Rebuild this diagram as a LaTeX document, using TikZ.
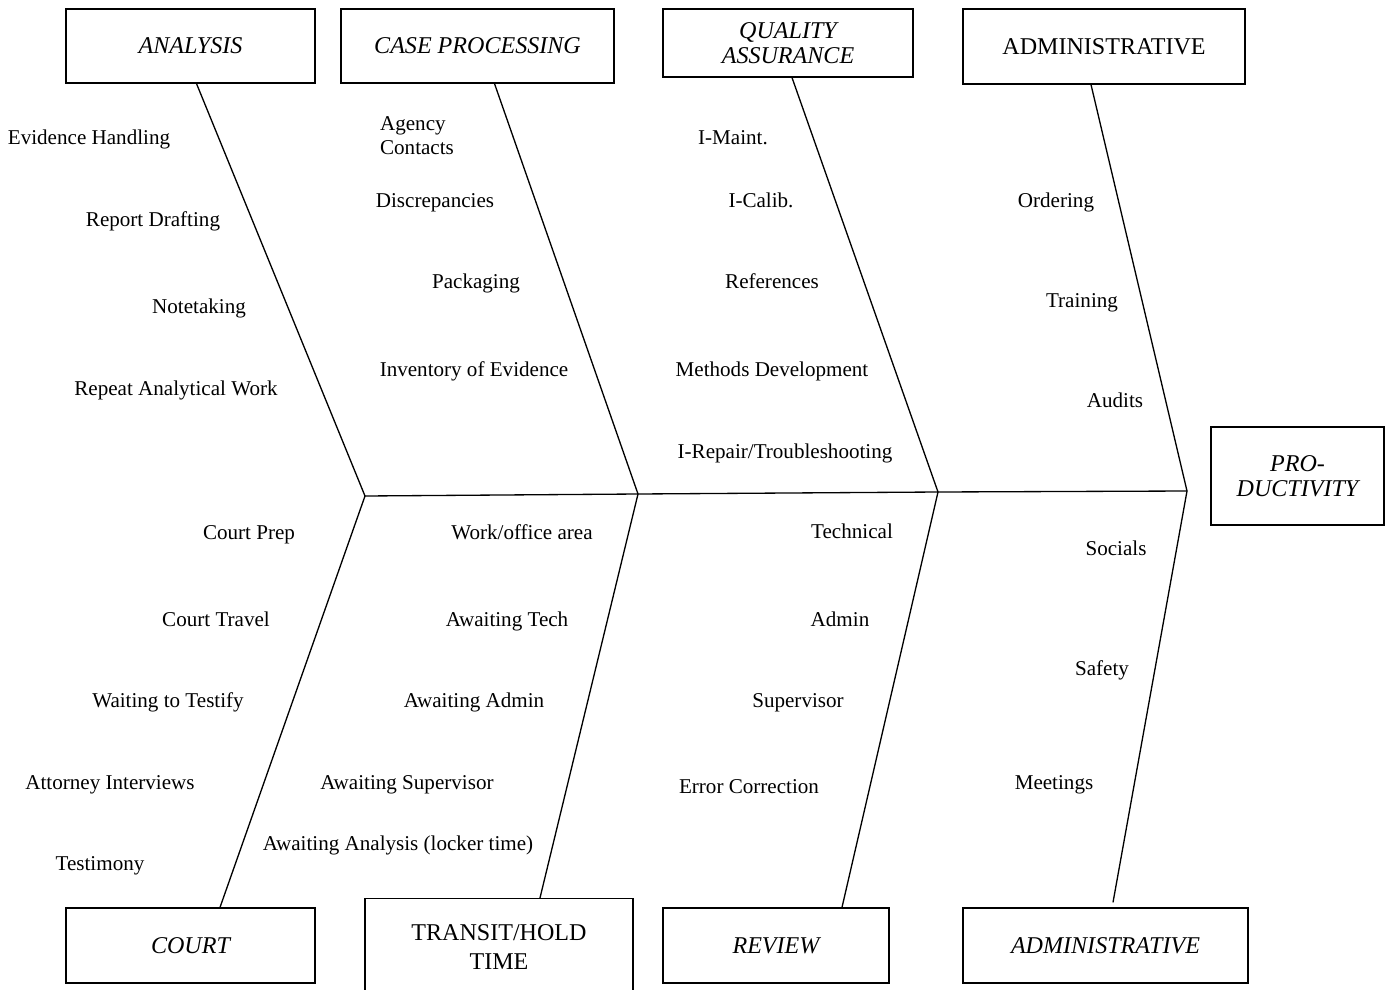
\documentclass[tikz,border=0pt]{standalone}
\usepackage{fontspec}
\setmainfont{Liberation Serif}
\usepackage{tikz}

\tikzset{
  head/.style={draw, line width=0.7pt, align=center, inner sep=2pt, font=\fontsize{13.7}{14}\selectfont},
  cause/.style={inner sep=1pt, text height=0.68em, text depth=0.22em, yshift=-0.05cm, font=\fontsize{12}{14}\selectfont},
  bone/.style={line width=0.75pt}
}

\begin{document}
\begin{tikzpicture}[x=0.02cm, y=-0.02cm]
	\useasboundingbox (0,0) rectangle (1386,990);
	%\draw [help lines, step=100] (0,0) grid (1386,990);
	% heads
	\node [head, minimum width=4.98cm, minimum height=1.48cm] (ana) at (190.5,46) {\itshape ANALYSIS};
	\node [head, minimum width=5.46cm, minimum height=1.48cm] (cas) at (477.5,46) {\itshape CASE PROCESSING};
	\node [head, minimum width=5.0cm, minimum height=1.36cm] (qua) at (788,43) {\itshape QUALITY\\ \itshape ASSURANCE};
	\node [head, minimum width=5.64cm, minimum height=1.5cm] (adt) at (1104,46.5) {ADMINISTRATIVE};
	\node [head, minimum width=4.98cm, minimum height=1.5cm] (cou) at (190.5,945.5) {\itshape COURT};
	\node [head, minimum width=5.36cm, minimum height=1.94cm, font=\fontsize{13.7}{16}\selectfont] (tra) at (499,947) {TRANSIT/HOLD\\ TIME};
	\node [head, minimum width=4.52cm, minimum height=1.5cm] (rev) at (776,945.5) {\itshape REVIEW};
	\node [head, minimum width=5.7cm, minimum height=1.5cm] (adb) at (1105.5,945.5) {\itshape ADMINISTRATIVE};
	\node [head, minimum width=3.46cm, minimum height=1.96cm] (pro) at (1297.5,476) {\itshape PRO-\\ \itshape DUCTIVITY};
	% spine
	\coordinate (j1) at (365,496);
	\coordinate (j2) at (638,494);
	\coordinate (j3) at (938,492);
	\coordinate (j4) at (1187,491);
	\draw [bone] (j1) -- (j2) -- (j3) -- (j4);
	% bones
	\draw [bone] ([xshift=0.12cm]ana.south) -- (j1);
	\draw [bone] ([xshift=0.34cm]cas.south) -- (j2);
	\draw [bone] ([xshift=0.08cm]qua.south) -- (j3);
	\draw [bone] ([xshift=-0.26cm]adt.south) -- (j4);
	\draw [bone] ([xshift=0.59cm]cou.north) -- (j1);
	\draw [bone] ([xshift=0.82cm]tra.north) -- (j2);
	\draw [bone] ([xshift=1.32cm]rev.north) -- (j3);
	\draw [bone] ([xshift=0.15cm, yshift=0.1cm]adb.north) -- (j4);
	% analysis
	\node [cause] (a1) at (89,138) {Evidence Handling};
	\node [cause] (a2) at (153,220) {Report Drafting};
	\node [cause] (a3) at (199,307) {Notetaking};
	\node [cause] (a4) at (176,389) {Repeat Analytical Work};
	% case processing
	\node [cause, align=left, text height=, text depth=] (c1) at (417,133) {Agency\\Contacts};
	\node [cause] (c2) at (435,201) {Discrepancies};
	\node [cause] (c3) at (476,282) {Packaging};
	\node [cause] (c4) at (474,370) {Inventory of Evidence};
	% quality assurance
	\node [cause] (q1) at (733,138) {I-Maint.};
	\node [cause] (q2) at (761,201) {I-Calib.};
	\node [cause] (q3) at (772,282) {References};
	\node [cause] (q4) at (772,370) {Methods Development};
	\node [cause] (q5) at (785,452) {I-Repair/Troubleshooting};
	% administrative (top)
	\node [cause] (t1) at (1056,201) {Ordering};
	\node [cause] (t2) at (1082,301) {Training};
	\node [cause] (t3) at (1115,401) {Audits};
	% court
	\node [cause] (o1) at (249,533) {Court Prep};
	\node [cause] (o2) at (216,620) {Court Travel};
	\node [cause] (o3) at (168,701) {Waiting to Testify};
	\node [cause] (o4) at (110,783) {Attorney Interviews};
	\node [cause] (o5) at (100,864) {Testimony};
	% transit/hold time
	\node [cause] (h1) at (522,533) {Work/office area};
	\node [cause] (h2) at (507,620) {Awaiting Tech};
	\node [cause] (h3) at (474,701) {Awaiting Admin};
	\node [cause] (h4) at (407,783) {Awaiting Supervisor};
	\node [cause] (h5) at (398,844) {Awaiting Analysis (locker time)};
	% review
	\node [cause] (r1) at (852,532) {Technical};
	\node [cause] (r2) at (840,620) {Admin};
	\node [cause] (r3) at (798,701) {Supervisor};
	\node [cause] (r4) at (749,787) {Error Correction};
	% administrative (bottom)
	\node [cause] (b1) at (1116,549) {Socials};
	\node [cause] (b2) at (1102,669) {Safety};
	\node [cause] (b3) at (1054,783) {Meetings};
\end{tikzpicture}
\end{document}
